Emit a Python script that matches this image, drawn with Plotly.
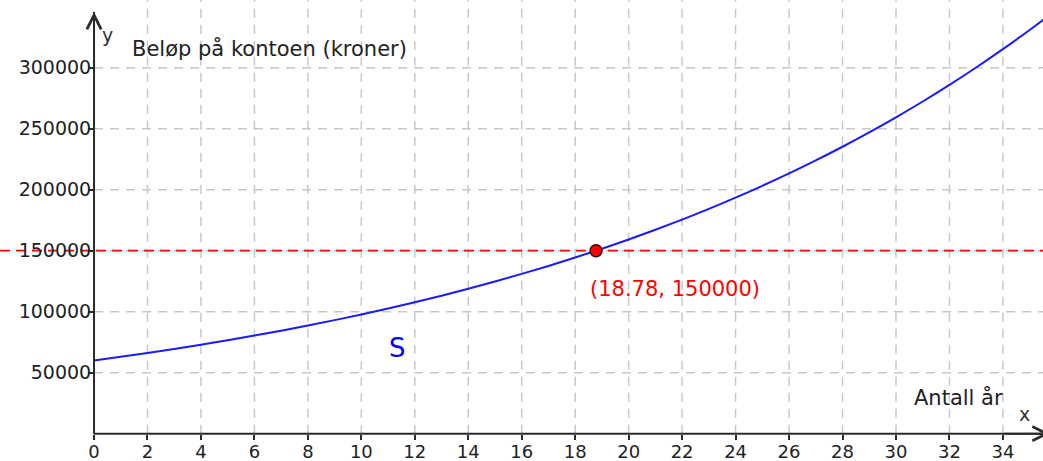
import plotly.graph_objects as go

# ---- data ----
years = list(range(0, 37))
balance = [60000, 63000, 66150, 69460, 72930, 76580, 80410, 84430, 88650, 93080,
           97730, 102620, 107750, 113140, 118800, 124740, 130970, 137520, 144400, 151620,
           159200, 167160, 175520, 184290, 193510, 203180, 213340, 224010, 235210, 246970,
           259320, 272280, 285900, 300190, 315200, 330960, 347510]
point_x = [18.78]
point_y = [150000]
level_y = 150000
x_ticks = list(range(0, 35, 2))
y_ticks = [50000, 100000, 150000, 200000, 250000, 300000]

X_RANGE = [-3.517, 35.50]
Y_RANGE = [-22380, 355490]

FONT = "DejaVu Sans"
GRID = "#c8c8c8"
AXIS = "#2b2b2b"

fig = go.Figure()

# grid
shapes = []
for xv in x_ticks[1:]:
    shapes.append(dict(type="line", xref="x", yref="y", x0=xv, x1=xv, y0=0, y1=Y_RANGE[1],
                       line=dict(color=GRID, width=1.5, dash="9px,7px"), layer="below"))
for yv in y_ticks:
    shapes.append(dict(type="line", xref="x", yref="y", x0=0, x1=X_RANGE[1], y0=yv, y1=yv,
                       line=dict(color=GRID, width=1.5, dash="9px,7px"), layer="below"))
# red level line
shapes.append(dict(type="line", xref="x", yref="y", x0=X_RANGE[0], x1=X_RANGE[1], y0=level_y, y1=level_y,
                   line=dict(color="#ff0000", width=1.8, dash="10px,6px"), layer="below"))
# axes from origin
shapes.append(dict(type="line", xref="x", yref="y", x0=0, x1=X_RANGE[1] + 0.5, y0=0, y1=0,
                   line=dict(color=AXIS, width=2)))
shapes.append(dict(type="line", xref="x", yref="y", x0=0, x1=0, y0=0, y1=345600,
                   line=dict(color=AXIS, width=2)))
fig.update_layout(shapes=shapes)

fig.add_trace(go.Scatter(x=years, y=balance, mode="lines",
                         line=dict(color="#1a1aff", width=2, shape="spline"), hoverinfo="skip"))
fig.add_trace(go.Scatter(x=point_x, y=point_y, mode="markers",
                         marker=dict(color="#ff0000", size=12, line=dict(color="#400000", width=1.5)),
                         hoverinfo="skip"))

annotations = [
    # axis arrows
    dict(x=0, y=345600, ax=0, ay=300000, xref="x", yref="y", axref="x", ayref="y",
         showarrow=True, arrowhead=5, arrowsize=1.4, arrowwidth=2, arrowcolor=AXIS, text=""),
    dict(x=35.75, y=0, ax=34, ay=0, xref="x", yref="y", axref="x", ayref="y",
         showarrow=True, arrowhead=5, arrowsize=1.4, arrowwidth=2, arrowcolor=AXIS, text=""),
    dict(x=0.49, y=327000, text="y", showarrow=False, xanchor="center", yanchor="middle",
         font=dict(family=FONT, size=19, color="#333")),
    dict(x=1.35, y=316000, text="Beløp på kontoen (kroner)", showarrow=False, xanchor="left",
         yanchor="middle", font=dict(family=FONT, size=21, color="#222")),
    dict(x=30.6, y=30000, text="Antall år", showarrow=False, xanchor="left", yanchor="middle",
         font=dict(family=FONT, size=21, color="#222")),
    dict(x=34.79, y=16500, text="x", showarrow=False, xanchor="center", yanchor="middle",
         font=dict(family=FONT, size=19, color="#333")),
    dict(x=11.37, y=70000, text="S", showarrow=False, xanchor="center", yanchor="middle",
         font=dict(family=FONT, size=26, color="#0000ff")),
    dict(x=18.48, y=118600, text="(18.78, 150000)", showarrow=False, xanchor="left", yanchor="middle",
         font=dict(family=FONT, size=21, color="#ff0000")),
]
fig.update_layout(annotations=annotations)

fig.update_layout(
    width=1043, height=461,
    margin=dict(l=0, r=0, t=0, b=0, autoexpand=False),
    paper_bgcolor="white", plot_bgcolor="white",
    showlegend=False,
    xaxis=dict(range=X_RANGE, tickvals=x_ticks, showgrid=False, zeroline=False, showline=False,
               anchor="free", position=22380 / (355490 + 22380), automargin=False,
               ticks="outside", ticklen=5, tickwidth=1.5, tickcolor=AXIS,
               ticklabelstandoff=-3,
               tickfont=dict(family=FONT, size=18, color="#222")),
    yaxis=dict(range=Y_RANGE, tickvals=y_ticks, showgrid=False, zeroline=False, showline=False,
               anchor="free", position=3.517 / (35.5 + 3.517), automargin=False,
               tickformat="d",
               ticks="outside", ticklen=6, tickwidth=1.5, tickcolor=AXIS,
               ticklabelstandoff=-7,
               tickfont=dict(family=FONT, size=19, color="#222")),
)

fig.write_html("out.html", config={"displayModeBar": False},
               post_script="document.body.style.margin='0';document.body.style.overflow='hidden';")
